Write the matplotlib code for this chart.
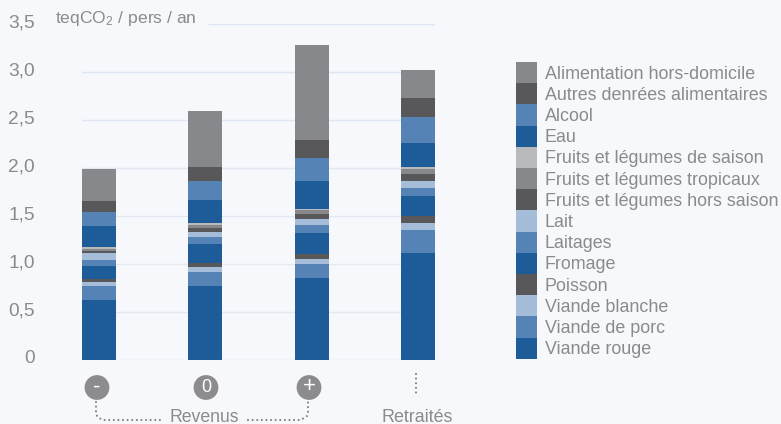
import matplotlib
matplotlib.use("Agg")
import matplotlib.pyplot as plt
from matplotlib.patches import Patch, Circle
from matplotlib.transforms import ScaledTranslation

plt.rcParams["font.family"] = ["Liberation Sans", "DejaVu Sans"]
plt.rcParams["mathtext.fontset"] = "custom"
plt.rcParams["mathtext.rm"] = "Liberation Sans"
plt.rcParams["mathtext.default"] = "regular"

W, H = 781, 424
BG = "#f6f8fc"
TXT = "#8a8b8e"

BLUE = "#1d5c99"
MID = "#5583b5"
PALE = "#a5bdd8"
DARK = "#58585a"
GREY = "#87888b"
LIGHT = "#b9babc"

groups = [0, 1, 2, 3]

viande_rouge = [0.618, 0.764, 0.847, 1.108]
viande_porc = [0.146, 0.146, 0.146, 0.240]
viande_blanche = [0.042, 0.052, 0.052, 0.073]
poisson = [0.031, 0.042, 0.056, 0.073]
fromage = [0.135, 0.198, 0.215, 0.208]
laitages = [0.062, 0.073, 0.083, 0.083]
lait = [0.073, 0.052, 0.062, 0.073]
fl_hors_saison = [0.021, 0.042, 0.052, 0.073]
fl_tropicaux = [0.021, 0.031, 0.042, 0.052]
fl_saison = [0.021, 0.021, 0.010, 0.021]
eau = [0.219, 0.240, 0.292, 0.250]
alcool = [0.146, 0.198, 0.250, 0.281]
autres = [0.115, 0.146, 0.188, 0.198]
hors_domicile = [0.333, 0.585, 0.985, 0.288]

series = [
    ("Viande rouge", viande_rouge, BLUE),
    ("Viande de porc", viande_porc, MID),
    ("Viande blanche", viande_blanche, PALE),
    ("Poisson", poisson, DARK),
    ("Fromage", fromage, BLUE),
    ("Laitages", laitages, MID),
    ("Lait", lait, PALE),
    ("Fruits et légumes hors saison", fl_hors_saison, DARK),
    ("Fruits et légumes tropicaux", fl_tropicaux, GREY),
    ("Fruits et légumes de saison", fl_saison, LIGHT),
    ("Eau", eau, BLUE),
    ("Alcool", alcool, MID),
    ("Autres denrées alimentaires", autres, DARK),
    ("Alimentation hors-domicile", hors_domicile, GREY),
]

yticks = [0, 0.5, 1.0, 1.5, 2.0, 2.5, 3.0, 3.5]
ytick_labels = ["0", "0,5", "1,0", "1,5", "2,0", "2,5", "3,0", "3,5"]
grid_colours = ["#e6e8ee", "#e6e8ee", "#e5e9f0", "#e3e9f2", "#e1e8f2", "#dee7f3", "#dce6f3", "#dce6f3"]

fig = plt.figure(figsize=(W / 100, H / 100), dpi=100, facecolor=BG)

# axes calees sur les pixels de la reference
x0, x1, y0, y1 = 82, 435, 359.5, 24
ax = fig.add_axes([x0 / W, 1 - y0 / H, (x1 - x0) / W, (y0 - y1) / H])
ax.set_facecolor("none")
ax.set_xlim(-0.16, 3.16)
ax.set_ylim(0, 3.5)
for s in ax.spines.values():
    s.set_visible(False)

ax.set_xticks([])
ax.set_yticks(yticks)
ax.set_yticklabels(ytick_labels, color=TXT, fontsize=13.8)
ax.tick_params(axis="y", length=0, pad=34)
# les etiquettes sont un peu au-dessus des lignes
for lab in ax.get_yticklabels():
    lab.set_transform(lab.get_transform() + ScaledTranslation(0, 3 / 100, fig.dpi_scale_trans))

for v, c in zip(yticks, grid_colours):
    # la ligne du haut laisse la place a l'unite
    start = 0.36 if v == 3.5 else 0
    ax.axhline(v, xmin=start, color=c, linewidth=1.0, zorder=1)

bottom = [0] * len(groups)
handles = []
for name, values, colour in series:
    ax.bar(groups, values, 0.32, bottom=bottom, color=colour, linewidth=0, zorder=2)
    bottom = [b + v for b, v in zip(bottom, values)]
    handles.append(Patch(facecolor=colour, linewidth=0, label=name))

fs = 12.9
fs_px = fs * 100 / 72
# matplotlib retire une part de descente a la hauteur de ligne
row = (21.2 / fs_px - 0.245) / 0.65
fig.legend(
    handles=handles[::-1],
    loc="upper left",
    bbox_to_anchor=(516 / W, 1 - 62 / H),
    frameon=False,
    fontsize=fs,
    labelcolor=TXT,
    borderpad=0,
    borderaxespad=0,
    labelspacing=0,
    handlelength=21 / fs_px,
    handleheight=row,
    handletextpad=8 / fs_px,
)

# annotations du bas, en pixels
over = fig.add_axes([0, 0, 1, 1])
over.set_xlim(0, W)
over.set_ylim(H, 0)
over.axis("off")

over.text(55, 19, "teqCO$_2$ / pers / an", color=TXT, fontsize=12.6, va="center", ha="left")

marks = [(97, "-", 16), (206, "0", 13), (309, "+", 16)]
for cx, sym, size in marks:
    over.add_patch(Circle((cx, 387.5), 12.4, facecolor="#8c8c8e", linewidth=0))
    over.text(cx, 387, sym, color="white", fontsize=size, ha="center", va="center")

dots = dict(color="#7c7c7f", linewidth=1.5, linestyle=(0, (0.01, 2.2)), dash_capstyle="round")
over.plot([96, 96, 97, 99, 103, 163], [402, 412, 416, 418, 420, 420], **dots)
over.plot([248, 300, 304, 307, 308, 308], [420, 420, 418, 416, 412, 402], **dots)
over.plot([415.5, 415.5], [374, 397], **dots)

over.text(204.5, 417.5, "Revenus", color=TXT, fontsize=12.7, ha="center", va="center")
over.text(417.5, 417.5, "Retraités", color=TXT, fontsize=12.9, ha="center", va="center")

fig.savefig("out.png", dpi=100, facecolor=BG)
